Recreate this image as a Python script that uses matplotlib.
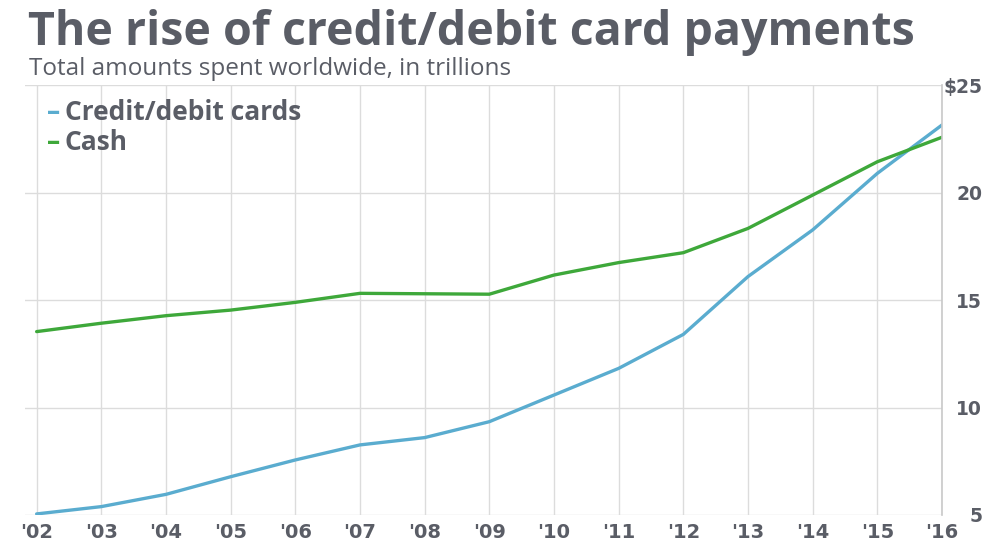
import matplotlib.pyplot as plt

years = list(range(2002, 2017))
year_labels = ["'02", "'03", "'04", "'05", "'06", "'07", "'08", "'09",
               "'10", "'11", "'12", "'13", "'14", "'15", "'16"]
cards = [5.05, 5.39, 5.96, 6.78, 7.56, 8.26, 8.6, 9.34,
         10.58, 11.82, 13.4, 16.09, 18.26, 20.89, 23.14]
cash = [13.53, 13.92, 14.27, 14.53, 14.89, 15.31, 15.29, 15.27,
        16.16, 16.74, 17.2, 18.33, 19.88, 21.43, 22.57]
y_ticks = [5, 10, 15, 20, 25]
y_labels = ['5', '10', '15', '20', '$25']

blue = '#5aaccf'
green = '#3ea83a'
text_gray = '#5a5d66'
grid_gray = '#dcdcdc'

fig = plt.figure(figsize=(9.86, 5.42), dpi=100)
ax = fig.add_axes([25/986, 1 - 515/542, (942 - 25)/986, 430/542])

ax.plot(years, cards, color=blue, lw=2.4, solid_capstyle='round')
ax.plot(years, cash, color=green, lw=2.4, solid_capstyle='round')

ax.set_xlim(2001.82, 2016)
ax.set_ylim(5, 25)
ax.set_xticks(years)
ax.set_xticklabels(year_labels)
ax.set_yticks(y_ticks)
ax.set_yticklabels(y_labels)
ax.yaxis.tick_right()
ax.tick_params(length=0, colors=text_gray)
ax.tick_params(axis='x', pad=5.5, labelsize=14)
ax.tick_params(axis='y', pad=29, labelsize=13.5)
for lab in ax.get_xticklabels() + ax.get_yticklabels():
    lab.set_fontweight('bold')
    lab.set_fontfamily('DejaVu Sans')
for lab in ax.get_yticklabels():
    lab.set_horizontalalignment('right')

ax.grid(True, color=grid_gray, lw=1)
ax.set_axisbelow(True)
for side in ['left', 'top', 'bottom']:
    ax.spines[side].set_visible(False)
ax.spines['right'].set_color('#c8c8c8')
ax.spines['right'].set_linewidth(1.2)

# legend drawn as text with colored dashes
leg = [('Credit/debit cards', blue, 1 - 112/542), ('Cash', green, 1 - 143/542)]
for name, col, yy in leg:
    fig.text(47/986, yy, '–', color=col, fontsize=19, fontweight='bold',
             family='Open Sans', va='center')
    fig.text(65/986, yy, name, color=text_gray, fontsize=19, fontweight='bold',
             family='Open Sans', va='center')

fig.text(28/986, 1 - 32/542, 'The rise of credit/debit card payments', color=text_gray,
         fontsize=33.5, fontweight='bold', family='Open Sans', va='center')
fig.text(29/986, 1 - 69/542, 'Total amounts spent worldwide, in trillions', color=text_gray,
         fontsize=17.5, family='Open Sans', va='center')

fig.savefig('out.png', dpi=100, facecolor='white')
